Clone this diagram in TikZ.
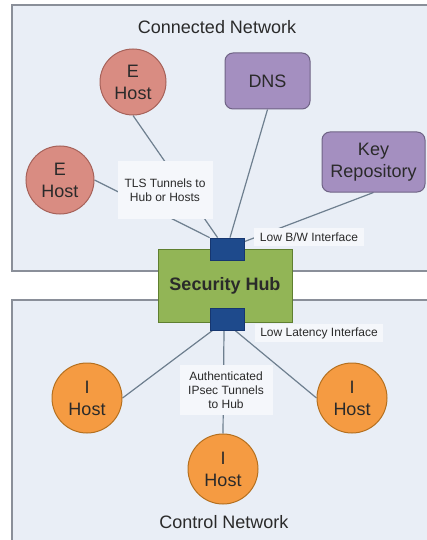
\documentclass[tikz,border=0pt]{standalone}
\usepackage{fontspec}
\setmainfont{Liberation Sans}
\usetikzlibrary{backgrounds}
\definecolor{regfill}{HTML}{E9EEF6}
\definecolor{regline}{HTML}{8A8F99}
\definecolor{efill}{HTML}{D98C82}
\definecolor{eline}{HTML}{A6625A}
\definecolor{ifill}{HTML}{F59B42}
\definecolor{iline}{HTML}{B5701F}
\definecolor{pfill}{HTML}{A48FC0}
\definecolor{pline}{HTML}{6F6385}
\definecolor{gfill}{HTML}{92B556}
\definecolor{gline}{HTML}{5F7F30}
\definecolor{sqfill}{HTML}{1E4A8C}
\definecolor{sqline}{HTML}{163670}
\definecolor{conn}{HTML}{6E7F8F}
\definecolor{lblfill}{HTML}{F5F7FB}
\definecolor{txt}{HTML}{2A2A2A}
\tikzset{
  bigtxt/.style={font=\fontsize{18}{22}\selectfont, text=txt},
  smalltxt/.style={font=\fontsize{12}{14}\selectfont, text=txt},
  region/.style={draw=regline, fill=regfill, line width=1.2pt},
  ehost/.style={circle, draw=eline, fill=efill, line width=1pt, inner sep=0pt, align=center, bigtxt},
  ihost/.style={circle, draw=iline, fill=ifill, line width=1pt, inner sep=0pt, minimum size=70pt, align=center, bigtxt},
  pbox/.style={rectangle, rounded corners=8pt, draw=pline, fill=pfill, line width=1pt, inner sep=0pt, align=center, bigtxt},
  hubbox/.style={rectangle, draw=gline, fill=gfill, line width=1pt, inner sep=0pt, minimum width=134pt, minimum height=73pt, font=\fontsize{18}{22}\selectfont\bfseries, text=txt},
  iface/.style={rectangle, draw=sqline, fill=sqfill, line width=0.8pt, minimum width=34pt, minimum height=22pt, inner sep=0pt},
  lbl/.style={rectangle, fill=lblfill, inner sep=0pt, align=center, smalltxt},
  conline/.style={draw=conn, line width=1.2pt},
}
\begin{document}
\begin{tikzpicture}[x=1pt,y=-1pt]
\useasboundingbox (0,0) rectangle (427,540);
% nodes
\node[hubbox] (hub) at (225,285.5) {Security Hub};
\node[iface] (sqTop) at (227,249) {};
\node[iface] (sqBot) at (227,319) {};
\node[ehost, minimum size=66pt] (eh1) at (133,82) {E\\Host};
\node[ehost, minimum size=68pt] (eh2) at (60,180) {E\\Host};
\node[pbox, minimum width=85pt, minimum height=56pt] (dns) at (267.5,81) {DNS};
\node[pbox, minimum width=103pt, minimum height=60pt] (key) at (373.5,162) {Key\\Repository};
\node[ihost] (ih1) at (87,398) {I\\Host};
\node[ihost] (ih2) at (352,398) {I\\Host};
\node[ihost] (ih3) at (223,469) {I\\Host};
\node[lbl, minimum width=95pt, minimum height=58pt] (tls) at (165,190) {TLS Tunnels to\\Hub or Hosts};
\node[lbl, minimum width=110pt, minimum height=18pt] (lowbw) at (309,237) {Low B/W Interface};
\node[lbl, minimum width=128pt, minimum height=18pt] (lowlat) at (319,333) {Low Latency Interface};
\node[lbl, minimum width=93pt, minimum height=50pt] (ipsec) at (226,390) {Authenticated\\IPsec Tunnels\\to Hub};
\node[bigtxt] (titleA) at (217,27) {Connected Network};
\node[bigtxt] (titleB) at (224,522) {Control Network};
\begin{scope}[on background layer]
  \fill[white] (0,0) rectangle (427,540);
  \draw[region] (12,5) rectangle (440,271);
  \draw[region] (12,300) rectangle (440,548);
  \draw[conline] (eh1.south) -- ([xshift=8pt]sqTop.north west);
  \draw[conline] (eh2.east) -- (sqTop.north west);
  \draw[conline] (dns.south) -- ([xshift=3pt]sqTop.north);
  \draw[conline] (key.south) -- ([yshift=-4pt]sqTop.north east);
  \draw[conline] (ih1.east) -- ([xshift=3pt]sqBot.south west);
  \draw[conline] (ih2.west) -- ([xshift=8pt]sqBot.south);
  \draw[conline] ([xshift=-3pt]sqBot.south) -- (ih3.north);
\end{scope}
\end{tikzpicture}
\end{document}
